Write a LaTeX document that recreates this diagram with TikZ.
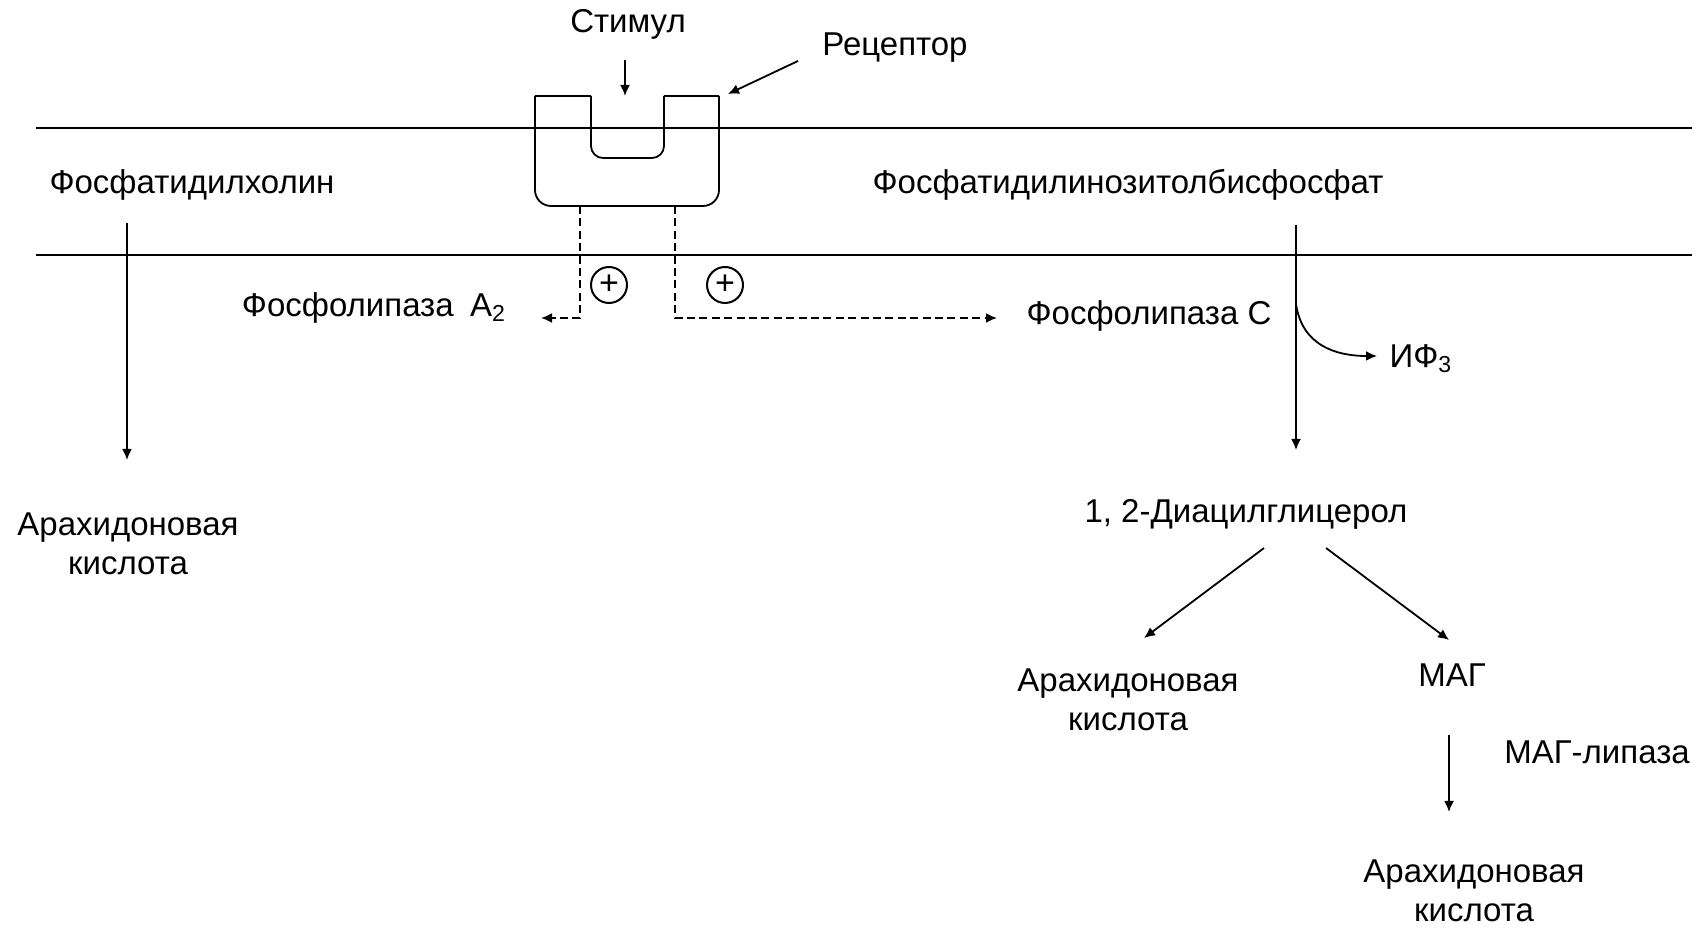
\documentclass[tikz,border=0pt]{standalone}
\usepackage{fontspec}
\setmainfont{Liberation Sans}
\usetikzlibrary{arrows.meta}
\begin{document}
\begin{tikzpicture}[x=0.5pt,y=-0.5pt,
  lbl/.style={inner sep=0pt,font=\fontsize{16.5}{19.5}\selectfont,align=center},
  ln/.style={line width=0.9pt},
  arr/.style={line width=0.9pt,-{Latex[length=5.5pt,width=5pt]}},
  darr/.style={arr,dash pattern=on 4pt off 2.2pt},
  plus/.style={circle,draw,line width=1pt,minimum size=18pt,inner sep=0pt,font=\fontsize{17}{17}\selectfont}]
\useasboundingbox (0,0) rectangle (1708,929);
% membrane
\coordinate (m1l) at (36,128); \coordinate (m1r) at (1692,128);
\coordinate (m2l) at (36,255); \coordinate (m2r) at (1692,255);
\draw[ln] (m1l) -- (m1r);
\draw[ln] (m2l) -- (m2r);
% receptor
\coordinate (r1) at (535,96); \coordinate (r2) at (591,96);
\coordinate (r3) at (664,96); \coordinate (r4) at (719,96);
\draw[ln,rounded corners=8pt] (r1) -- (535,206) -- (719,206) -- (r4);
\draw[ln] (r1) -- (r2);
\draw[ln] (r3) -- (r4);
\draw[ln,rounded corners=6pt] (r2) -- (591,158) -- (664,158) -- (r3);
% labels
\node[lbl] (stim) at (628,24) {Стимул};
\node[lbl] (rec) at (895,48) {Рецептор};
\node[lbl] (pc) at (192,185) {Фосфатидилхолин};
\node[lbl] (pip2) at (1128,185) {Фосфатидилинозитолбисфосфат};
\node[lbl] (pla2) at (374,308) {Фосфолипаза\enspace A\textsubscript{2}};
\node[lbl] (plc) at (1149,316) {Фосфолипаза C};
\node[lbl] (ip3) at (1421,359) {ИФ\textsubscript{3}};
\node[lbl] (aa1) at (128,544) {Арахидоновая\\кислота};
\node[lbl] (dag) at (1246,514) {1, 2-Диацилглицерол};
\node[lbl] (aa2) at (1128,700) {Арахидоновая\\кислота};
\node[lbl] (mag) at (1452,675) {МАГ};
\node[lbl] (lip) at (1597,752) {МАГ-липаза};
\node[lbl] (aa3) at (1474,891) {Арахидоновая\\кислота};
\node[plus] (p1) at (609,285) {+};
\node[plus] (p2) at (725,285) {+};
% arrows
\coordinate (s0) at (625,60); \coordinate (s1) at (625,96);
\draw[arr] (s0) -- (s1);
\coordinate (rc0) at (798,61); \coordinate (rc1) at (728,94);
\draw[arr] (rc0) -- (rc1);
\coordinate (d1) at (580,206); \coordinate (d1e) at (541,318);
\draw[darr] (d1) -- (580,318) -- (d1e);
\coordinate (d2) at (675,206); \coordinate (d2e) at (997,318);
\draw[darr] (d2) -- (675,318) -- (d2e);
\coordinate (a0) at (127,223); \coordinate (a1) at (127,460);
\draw[arr] (a0) -- (a1);
\coordinate (b0) at (1296,225); \coordinate (b1) at (1296,450);
\draw[arr] (b0) -- (b1);
\coordinate (c0) at (1296,304); \coordinate (c1) at (1377,356);
\draw[arr] (c0) .. controls (1302,345) and (1335,356) .. (c1);
\coordinate (e0) at (1264,548); \coordinate (e1) at (1144,638);
\draw[arr] (e0) -- (e1);
\coordinate (f0) at (1326,548); \coordinate (f1) at (1449,640);
\draw[arr] (f0) -- (f1);
\coordinate (g0) at (1449,735); \coordinate (g1) at (1449,812);
\draw[arr] (g0) -- (g1);
\end{tikzpicture}
\end{document}
